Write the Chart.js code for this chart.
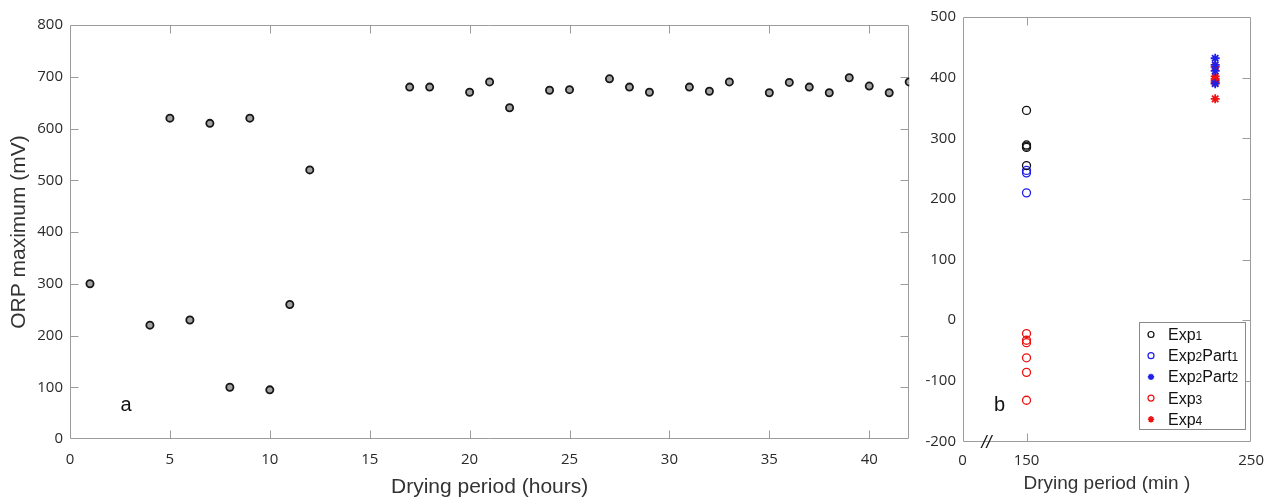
<!DOCTYPE html>
<html><head><meta charset="utf-8">
<script src="https://cdn.jsdelivr.net/npm/chart.js@4/dist/chart.umd.min.js"></script>
<style>
html,body{margin:0;padding:0;background:#fff;width:1274px;height:500px;overflow:hidden}
#ca{position:absolute;left:0;top:0}
#cb{position:absolute;left:915px;top:0}
</style></head><body>
<canvas id="ca" width="915" height="500"></canvas>
<canvas id="cb" width="359" height="500"></canvas>
<script>
// ---- Panel a data ----
const hoursA = [1,4,5,6,7,8,9,10,11,12,17,18,20,21,22,24,25,27,28,29,31,32,33,35,36,37,38,39,40,41,42];
const orpA   = [300,220,620,230,610,100,620,95,260,520,680,680,670,690,640,674,675,696,680,670,680,672,690,669,689,680,669,698,682,669,690];
const xTicksA = [0,5,10,15,20,25,30,35,40];
const yTicksA = [0,100,200,300,400,500,600,700,800];

// ---- Panel b data ----
const seriesNamesB = ['Exp1','Exp2Part1','Exp2Part2','Exp3','Exp4'];
const minutesB = [150,150,234,150,234];
const exp1Orp = [346,289,287,285,255];
const exp2Part1Orp = [247,243,210];
const exp2Part2Orp = [432,421,411,390];
const exp3Orp = [-22,-33,-37,-62,-86,-132];
const exp4Orp = [418,402,398,395,392,365];
const xTicksB = [121.5,150,250];
const xTickLabelsB = ['0','150','250'];
const yTicksB = [-200,-100,0,100,200,300,400,500];

const TICK_FONT = {family:'"Open Sans", sans-serif', size:15};
const TITLE_FAMILY = '"Liberation Sans", Arial, sans-serif';
const FRAME = '#9c9c9c';
const TXT = '#2a2a2a';

const frameTicks = {
  id:'frameTicks',
  beforeDatasetsDraw(chart, args, o){
    const {ctx, chartArea:a, scales:{x,y}} = chart;
    ctx.save();
    ctx.strokeStyle = o.color; ctx.lineWidth = 1;
    const L = Math.round(a.left)+0.5, R = Math.round(a.right)-0.5, T = Math.round(a.top)+0.5, B = Math.round(a.bottom)-0.5;
    ctx.beginPath(); ctx.rect(L,T,R-L,B-T); ctx.stroke();
    ctx.beginPath();
    x.ticks.forEach(t=>{
      const px = Math.round(x.getPixelForValue(t.value))+0.5;
      if (px < L+2 || px > R-2) return;
      if (o.xTop){ctx.moveTo(px,T);ctx.lineTo(px,T+o.len);}
      if (o.xBottom){ctx.moveTo(px,B);ctx.lineTo(px,B-o.len);}
    });
    y.ticks.forEach(t=>{
      const py = Math.round(y.getPixelForValue(t.value))+0.5;
      if (py < T+2 || py > B-2) return;
      if (o.yLeft){ctx.moveTo(L,py);ctx.lineTo(L+o.len,py);}
      if (o.yRight){ctx.moveTo(R,py);ctx.lineTo(R-o.len,py);}
    });
    ctx.stroke();
    ctx.restore();
  },
  afterDraw(chart, args, o){
    const {ctx, scales:{x,y}} = chart;
    ctx.save();
    ctx.fillStyle = '#111';
    ctx.textAlign='center'; ctx.textBaseline='middle';
    (o.notes||[]).forEach(n=>{
      ctx.font = n.font;
      ctx.fillText(n.text, x.getPixelForValue(n.x), y.getPixelForValue(n.y));
    });
    ctx.restore();
  }
};

// Panel a
new Chart(document.getElementById('ca'), {
  type:'scatter',
  data:{datasets:[{
    label:'ORP maximum',
    data: hoursA.map((h,i)=>({x:h,y:orpA[i]})),
    pointRadius:3.6, pointBorderWidth:1.8,
    pointBackgroundColor:'#a3a3a3', pointBorderColor:'#161616'
  }]},
  options:{
    responsive:false, animation:false, events:[],
    layout:{padding:{top:25,right:5.5,left:0,bottom:0}},
    plugins:{legend:{display:false}, tooltip:{enabled:false},
      frameTicks:{color:FRAME,len:8,xTop:true,xBottom:true,yLeft:true,yRight:true,
        notes:[{text:'a',x:2.8,y:65,font:'20px '+TITLE_FAMILY}]}},
    scales:{
      x:{type:'linear',min:0,max:42,
        afterBuildTicks:s=>{s.ticks = xTicksA.map(v=>({value:v}));},
        afterFit:s=>{s.height=61;},
        grid:{display:false,drawTicks:false}, border:{display:false},
        ticks:{font:TICK_FONT,color:TXT,padding:12,maxRotation:0,autoSkip:false},
        title:{display:true,text:'Drying period (hours)',color:'#333',font:{family:TITLE_FAMILY,size:21},padding:{top:0,bottom:0}}
      },
      y:{type:'linear',min:0,max:800,
        afterBuildTicks:s=>{s.ticks = yTicksA.map(v=>({value:v}));},
        afterFit:s=>{s.width=70;},
        grid:{display:false,drawTicks:false}, border:{display:false},
        ticks:{font:TICK_FONT,color:TXT,padding:7,autoSkip:false},
        title:{display:true,text:'ORP maximum (mV)',color:'#333',font:{family:TITLE_FAMILY,size:21},padding:{top:7,bottom:0}}
      }
    }
  },
  plugins:[frameTicks]
});

// Panel b
const styleB = [
  {color:'#111111', style:'circle'},
  {color:'#1f1fe6', style:'circle'},
  {color:'#1f1fe6', style:'star'},
  {color:'#ee1111', style:'circle'},
  {color:'#ee1111', style:'star'}
];
const valuesB = [exp1Orp, exp2Part1Orp, exp2Part2Orp, exp3Orp, exp4Orp];

const legendB = {
  id:'legendB',
  afterDraw(chart, args, o){
    const {ctx} = chart;
    ctx.save();
    ctx.strokeStyle = '#8a8a8a'; ctx.lineWidth=1;
    ctx.fillStyle='#fff';
    ctx.fillRect(o.left+0.5,o.top+0.5,o.width,o.height);
    ctx.strokeRect(o.left+0.5,o.top+0.5,o.width,o.height);
    chart.data.datasets.forEach((ds,i)=>{
      const cy = o.top + o.firstRow + i*o.rowGap;
      const cx = o.left + o.markerX;
      ctx.strokeStyle = ds.pointBorderColor;
      ctx.fillStyle = 'rgba(0,0,0,0)';
      ctx.lineWidth = ds.pointStyle==='star' ? 1.6 : 1.2;
      Chart.helpers.drawPoint(ctx, {pointStyle:ds.pointStyle, radius: ds.pointStyle==='star'?3.2:3, rotation:0, borderWidth:ctx.lineWidth}, cx, cy);
      // label with smaller digits
      let tx = o.left + o.textX;
      ctx.fillStyle = '#111'; ctx.textBaseline='alphabetic'; ctx.textAlign='left';
      const parts = ds.label.match(/\d+|\D+/g);
      parts.forEach(p=>{
        const isDigit = /^\d/.test(p);
        ctx.font = (isDigit?'12px ':'16px ') + TITLE_FAMILY;
        ctx.fillText(p, tx, cy+5.5);
        tx += ctx.measureText(p).width;
      });
    });
    // axis break mark
    ctx.fillStyle='#111'; ctx.font='italic 18px '+TITLE_FAMILY; ctx.textAlign='center'; ctx.textBaseline='middle';
    const a = chart.chartArea;
    ctx.fillText('//', a.left + o.breakX, a.bottom+1);
    ctx.restore();
  }
};

new Chart(document.getElementById('cb'), {
  type:'scatter',
  data:{datasets: seriesNamesB.map((name,i)=>({
    label:name,
    data: valuesB[i].map(v=>({x:minutesB[i],y:v})),
    pointStyle: styleB[i].style,
    pointRadius: styleB[i].style==='star' ? 4.5 : 4,
    pointBorderWidth: styleB[i].style==='star' ? 1.8 : 1.3,
    pointBorderColor: styleB[i].color,
    pointBackgroundColor: 'rgba(0,0,0,0)'
  }))},
  options:{
    responsive:false, animation:false, events:[],
    layout:{padding:{top:17,right:15,left:0,bottom:0}},
    plugins:{legend:{display:false}, tooltip:{enabled:false},
      frameTicks:{color:FRAME,len:8,xTop:true,xBottom:true,yLeft:false,yRight:true,
        notes:[{text:'b',x:138,y:-140,font:'20px '+TITLE_FAMILY}]},
      legendB:{left:224,top:322,width:106,height:107,markerX:12,textX:29,firstRow:12.5,rowGap:21.2,breakX:24}
    },
    scales:{
      x:{type:'linear',min:xTicksB[0],max:250,
        afterBuildTicks:s=>{s.ticks = xTicksB.map(v=>({value:v}));},
        afterFit:s=>{s.height=58.5;},
        grid:{display:false,drawTicks:false}, border:{display:false},
        ticks:{font:TICK_FONT,color:TXT,padding:10,maxRotation:0,autoSkip:false,
          callback:(v,i)=>xTickLabelsB[i]},
        title:{display:true,text:'Drying period (min )',color:'#333',font:{family:TITLE_FAMILY,size:19},padding:{top:0,bottom:5}}
      },
      y:{type:'linear',min:-200,max:500,
        afterBuildTicks:s=>{s.ticks = yTicksB.map(v=>({value:v}));},
        afterFit:s=>{s.width=47.5;},
        grid:{display:false,drawTicks:false}, border:{display:false},
        ticks:{font:TICK_FONT,color:TXT,padding:6.5,autoSkip:false}
      }
    }
  },
  plugins:[frameTicks, legendB]
});
</script>
</body></html>
